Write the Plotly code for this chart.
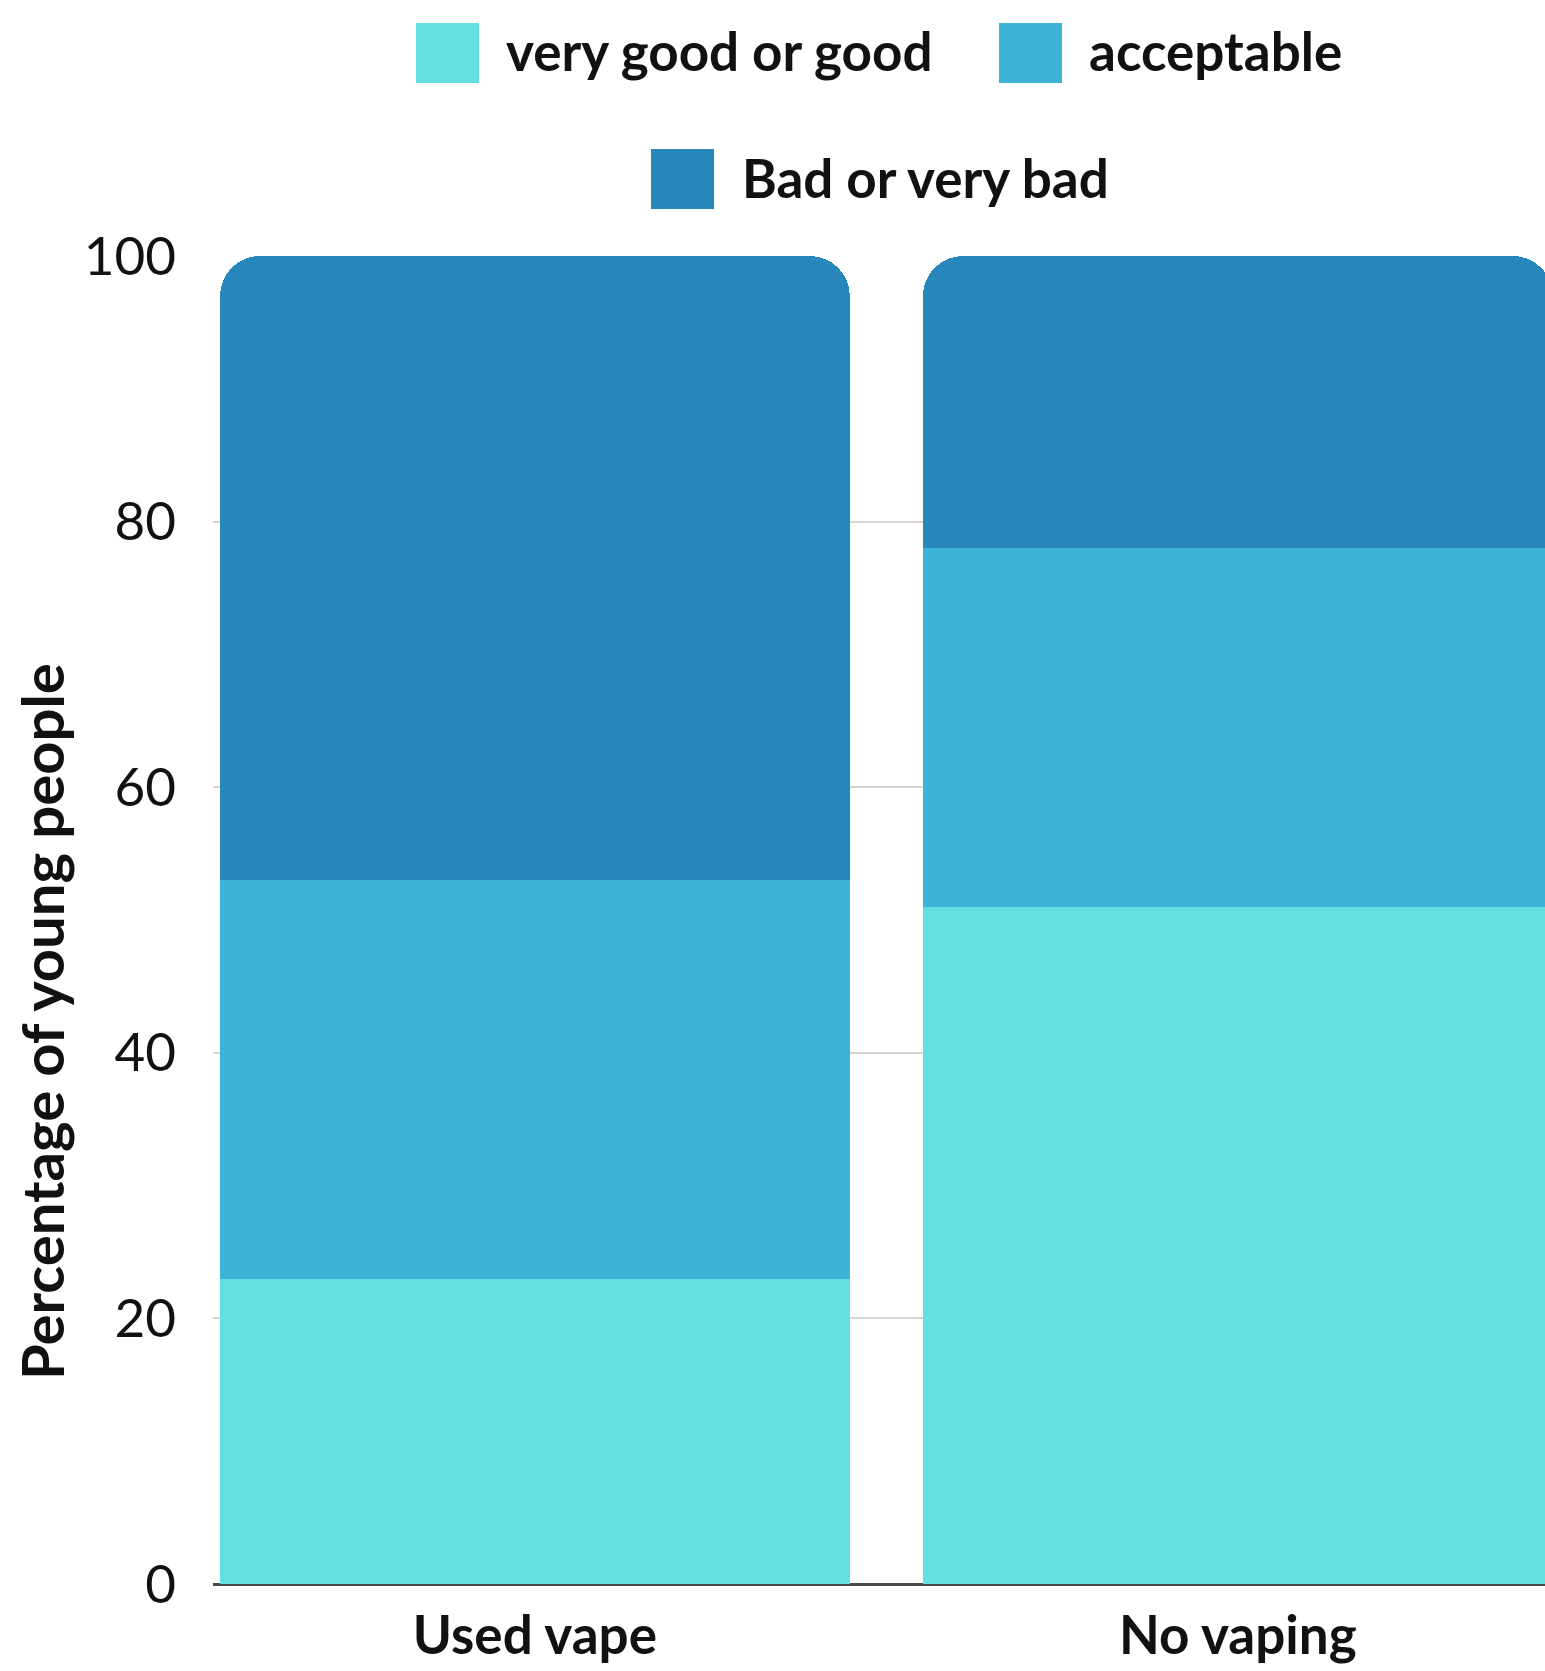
import plotly.graph_objects as go

# Self-rated health of young people, by vaping status (percent)
groups = ["Used vape", "No vaping"]
ratings = ["very good or good", "acceptable", "Bad or very bad"]
good = [23, 51]
acceptable = [30, 27]
bad = [47, 22]
y_ticks = [0, 20, 40, 60, 80, 100]

colors = {"very good or good": "#63DFE2",
          "acceptable": "#3DB4D5",
          "Bad or very bad": "#2787BA"}
series = {"very good or good": good, "acceptable": acceptable, "Bad or very bad": bad}

FONT = "Lato"
W, H = 1545, 1671
ML, MR, MT, MB = 213, 0, 256, 87

fig = go.Figure()
for name in ratings:
    fig.add_trace(go.Bar(
        x=groups, y=series[name], name=name,
        marker=dict(color=colors[name], line=dict(width=0)),
        width=0.896, showlegend=False,
    ))

fig.update_layout(
    width=W, height=H,
    margin=dict(l=ML, r=MR, t=MT, b=MB, autoexpand=False),
    barmode="stack",
    barcornerradius=40,
    paper_bgcolor="white", plot_bgcolor="white",
    font=dict(family=FONT, color="#111111"),
    xaxis=dict(
        range=[-0.458, 1.437], showgrid=False, showline=False, zeroline=False,
        ticks="", tickfont=dict(size=53, family=FONT, weight="bold"),
        ticklabelstandoff=16,
    ),
    yaxis=dict(
        range=[0, 100], tickvals=y_ticks, showgrid=True, gridcolor="#D4D4D4",
        gridwidth=2, zeroline=True, zerolinecolor="#4A4A4A", zerolinewidth=3,
        showline=False, ticks="", tickfont=dict(size=53, family=FONT),
        ticklabelstandoff=36,
    ),
)

# y-axis title
fig.add_annotation(
    xref="paper", yref="paper", x=(42 - ML) / (W - ML - MR),
    y=1 - (1022 - MT) / (H - MT - MB),
    text="Percentage of young people", textangle=-90, showarrow=False,
    font=dict(size=58, family=FONT, weight="bold", color="#111111"),
    xanchor="center", yanchor="middle",
)

# legend: swatches and labels placed in pixel positions converted to paper coords
pw, ph = W - ML - MR, H - MT - MB


def px_x(x):
    return (x - ML) / pw


def px_y(y):
    return 1 - (y - MT) / ph


legend_items = [
    ("very good or good", 416, 23, 504),
    ("acceptable", 999, 23, 1087),
    ("Bad or very bad", 651, 149, 740),
]
for name, sx, sy, tx in legend_items:
    fig.add_shape(
        type="rect", xref="paper", yref="paper",
        x0=px_x(sx), x1=px_x(sx + 63), y0=px_y(sy + 60), y1=px_y(sy),
        fillcolor=colors[name], line=dict(width=0),
    )
    fig.add_annotation(
        xref="paper", yref="paper", x=px_x(tx), y=px_y(sy + 28),
        text=name, showarrow=False, xanchor="left", yanchor="middle",
        font=dict(size=53, family=FONT, weight="bold", color="#111111"),
    )

fig.write_html("out.html")
